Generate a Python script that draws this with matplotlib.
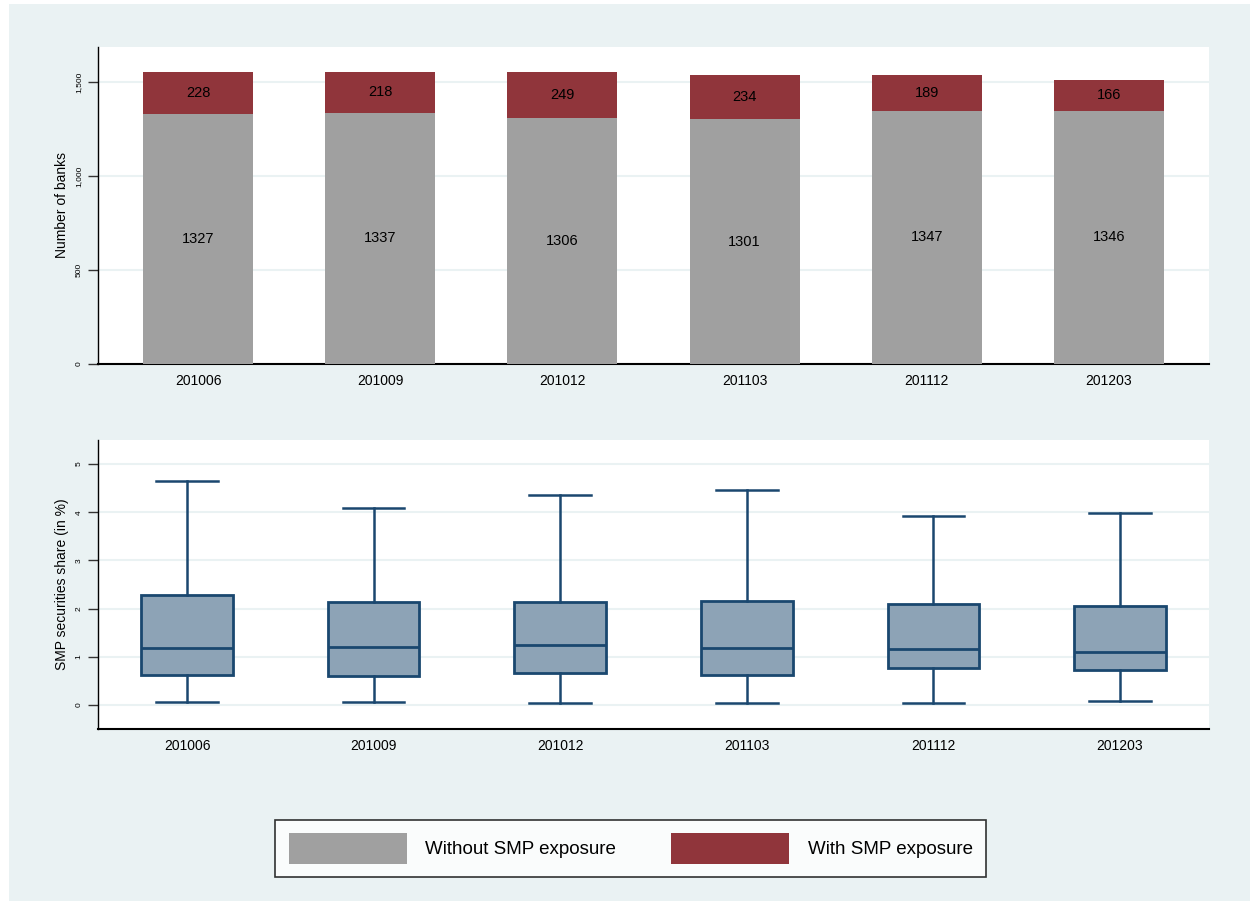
import matplotlib
matplotlib.use("Agg")
import matplotlib.pyplot as plt
from matplotlib.patches import Rectangle, Patch

plt.rcParams['font.family'] = ['Liberation Sans', 'DejaVu Sans']

periods = ["201006", "201009", "201012", "201103", "201112", "201203"]
without_smp = [1327, 1337, 1306, 1301, 1347, 1346]
with_smp = [228, 218, 249, 234, 189, 166]

# box plot statistics (SMP securities share, in %)
whislo = [0.06, 0.06, 0.05, 0.05, 0.05, 0.09]
q1 = [0.63, 0.59, 0.66, 0.62, 0.77, 0.73]
med = [1.19, 1.21, 1.24, 1.18, 1.16, 1.10]
q3 = [2.28, 2.13, 2.14, 2.16, 2.10, 2.06]
whishi = [4.64, 4.08, 4.36, 4.46, 3.92, 3.99]

BG = "#EAF2F3"
GRAY = "#A0A0A0"
RED = "#90353B"
NAVY = "#1A476F"
BOXFILL = "#8DA3B6"

fig = plt.figure(figsize=(12.5, 9.01), dpi=100)
fig.patch.set_facecolor("white")
fig.add_artist(Rectangle((9 / 1250, 0), 1 - 9 / 1250, 1 - 4 / 901,
                         transform=fig.transFigure, facecolor=BG,
                         edgecolor="none", zorder=-10))

# ---------- top: stacked bars ----------
ax1 = fig.add_axes([98 / 1250, 1 - 364 / 901, 1111 / 1250, 317 / 901])
ax1.set_facecolor("white")
x = list(range(len(periods)))
ax1.bar(x, without_smp, width=0.604, color=GRAY, zorder=3)
ax1.bar(x, with_smp, width=0.604, bottom=without_smp, color=RED, zorder=3)
for i in x:
    ax1.text(i, without_smp[i] / 2, str(without_smp[i]), ha="center",
             va="center", fontsize=10.5, zorder=4)
    ax1.text(i, without_smp[i] + with_smp[i] / 2, str(with_smp[i]),
             ha="center", va="center", fontsize=10.5, zorder=4)
ax1.set_xlim(-0.55, 5.55)
ax1.set_ylim(0, 1686)
ax1.set_yticks([0, 500, 1000, 1500])
ax1.set_yticklabels(["0", "500", "1,000", "1,500"], rotation=90,
                    va="center", fontsize=6)
ax1.set_xticks(x)
ax1.set_xticklabels(periods, fontsize=10)
ax1.tick_params(axis="x", length=0, pad=7)
ax1.tick_params(axis="y", length=7, width=1, pad=4, color="#333333")
ax1.set_ylabel("Number of banks", fontsize=10, labelpad=5)
ax1.yaxis.grid(True, color=BG, linewidth=1.5, zorder=0)
ax1.set_axisbelow(True)
for s in ["top", "right"]:
    ax1.spines[s].set_visible(False)
ax1.spines["left"].set_linewidth(1.0)
ax1.spines["bottom"].set_linewidth(1.5)

# ---------- bottom: box plots ----------
ax2 = fig.add_axes([98 / 1250, 1 - 729 / 901, 1111 / 1250, 289 / 901])
ax2.set_facecolor("white")
stats = []
for i, p in enumerate(periods):
    stats.append(dict(label=p, whislo=whislo[i], q1=q1[i], med=med[i],
                      q3=q3[i], whishi=whishi[i], fliers=[]))
ax2.bxp(stats, positions=x, widths=0.49, patch_artist=True,
        showfliers=False, capwidths=0.33,
        boxprops=dict(facecolor=BOXFILL, edgecolor=NAVY, linewidth=2),
        medianprops=dict(color=NAVY, linewidth=2),
        whiskerprops=dict(color=NAVY, linewidth=1.8),
        capprops=dict(color=NAVY, linewidth=1.8))
ax2.set_xlim(-0.477, 5.477)
ax2.set_ylim(-0.5, 5.5)
ax2.set_yticks([0, 1, 2, 3, 4, 5])
ax2.set_yticklabels(["0", "1", "2", "3", "4", "5"], rotation=90,
                    va="center", fontsize=6)
ax2.set_xticks(x)
ax2.set_xticklabels(periods, fontsize=10)
ax2.tick_params(axis="x", length=0, pad=7)
ax2.tick_params(axis="y", length=7, width=1, pad=4, color="#333333")
ax2.set_ylabel("SMP securities share (in %)", fontsize=10, labelpad=5)
ax2.yaxis.grid(True, color=BG, linewidth=1.5, zorder=0)
ax2.set_axisbelow(True)
for s in ["top", "right"]:
    ax2.spines[s].set_visible(False)
ax2.spines["left"].set_linewidth(1.0)
ax2.spines["bottom"].set_linewidth(1.5)

# ---------- legend ----------
handles = [Patch(facecolor=GRAY, edgecolor="none", label="Without SMP exposure"),
           Patch(facecolor=RED, edgecolor="none", label="With SMP exposure")]
leg = fig.legend(handles=handles, ncol=2, loc="center",
                 bbox_to_anchor=(630.5 / 1250, 1 - 848.5 / 901),
                 fontsize=13.5, frameon=True, fancybox=False,
                 handlelength=6.3, handleheight=2.1, handletextpad=1.0,
                 columnspacing=2.9, borderpad=0.7, borderaxespad=0)
leg.get_frame().set_edgecolor("black")
leg.get_frame().set_linewidth(1.2)
leg.get_frame().set_facecolor("white")

fig.savefig("out.png", dpi=100, facecolor=fig.get_facecolor())
